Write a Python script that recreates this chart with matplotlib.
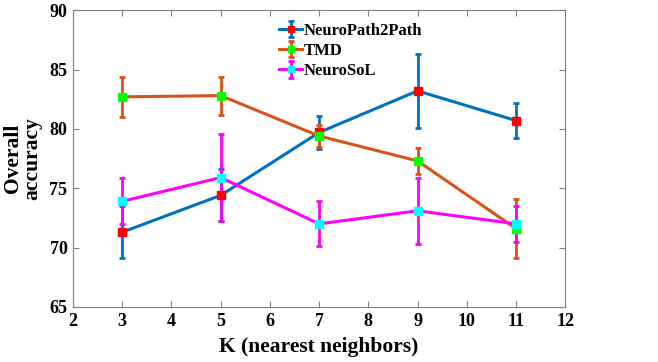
import matplotlib
matplotlib.use("Agg")
import matplotlib.pyplot as plt

k = [3, 5, 7, 9, 11]
np2p = [71.3, 74.4, 79.7, 83.2, 80.7]
np2p_err = [2.2, 2.2, 1.4, 3.1, 1.5]
tmd = [82.7, 82.8, 79.4, 77.3, 71.6]
tmd_err = [1.7, 1.6, 0.9, 1.1, 2.5]
sol = [73.9, 75.9, 72.0, 73.1, 72.0]
sol_err = [1.95, 3.7, 1.9, 2.8, 1.5]

plt.rcParams['font.family'] = ['Liberation Serif', 'DejaVu Serif']
plt.rcParams['font.weight'] = 'bold'

fig = plt.figure(figsize=(6.58, 3.62), dpi=100)
ax = fig.add_axes([0.111, 0.152, 0.748, 0.820])

ax.errorbar(k, np2p, yerr=np2p_err, color='#0072BD', lw=2.2, elinewidth=2,
            capsize=2, capthick=2, marker='s', ms=5.5, mfc='red', mec='red',
            label='NeuroPath2Path')
ax.errorbar(k, tmd, yerr=tmd_err, color='#D95319', lw=2.2, elinewidth=2,
            capsize=2, capthick=2, marker='s', ms=5.5, mfc='#00FF00', mec='#00FF00',
            label='TMD')
ax.errorbar(k, sol, yerr=sol_err, color='#FF00FF', lw=2.2, elinewidth=2,
            capsize=2, capthick=2, marker='s', ms=5.5, mfc='cyan', mec='cyan',
            label='NeuroSoL')

ax.set_xlim(2, 12)
ax.set_ylim(65, 90)
ax.set_xticks(range(2, 13))
ax.set_yticks(range(65, 91, 5))
ax.tick_params(direction='in', top=True, right=True, labelsize=13, length=4,
               color='#808080', pad=4)
for s in ax.spines.values():
    s.set_color('#808080')
for lab in ax.get_xticklabels() + ax.get_yticklabels():
    lab.set_fontweight('bold')

ax.set_xlabel('K (nearest neighbors)', fontsize=15.5, fontweight='bold')
ax.xaxis.set_label_coords(0.5, -0.1)
ax.set_ylabel('Overall\naccuracy', fontsize=15.5, fontweight='bold',
              linespacing=1.0)
ax.yaxis.set_label_coords(-0.062, 0.5)

leg = ax.legend(loc='upper left', bbox_to_anchor=(0.405, 0.98), frameon=False,
                fontsize=12, handlelength=1.4, handletextpad=0.1,
                labelspacing=0.25, borderaxespad=0, markerscale=0.7)

fig.savefig('out.png', dpi=100)
